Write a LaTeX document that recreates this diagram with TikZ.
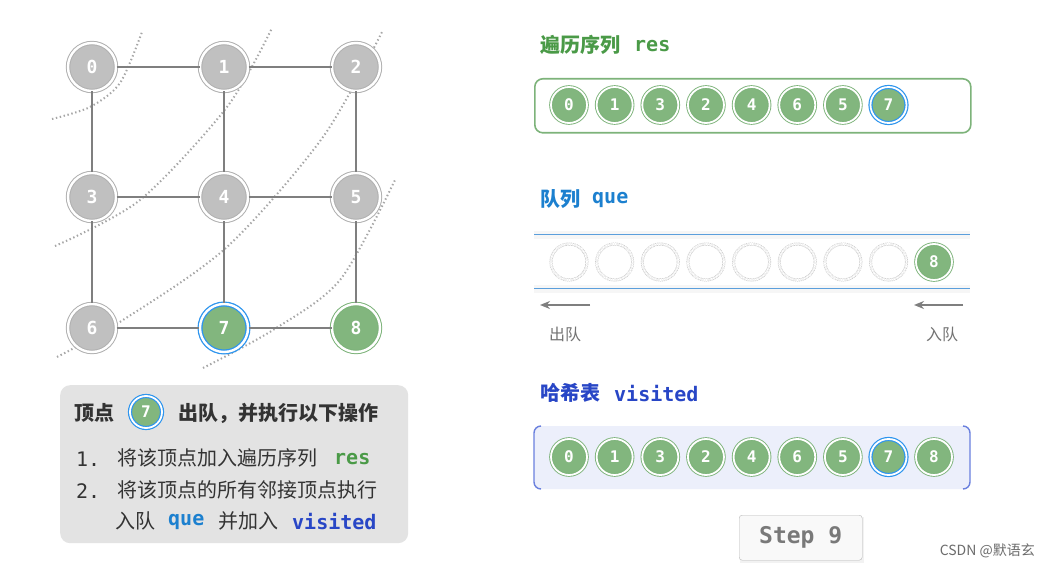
\documentclass[tikz,border=0pt]{standalone}
\usepackage{fontspec}
\setmainfont{Noto Sans CJK SC}
\setmonofont{DejaVu Sans Mono}
\newfontfamily\cjk{Noto Sans CJK SC}
\usetikzlibrary{arrows.meta}
\definecolor{gfill}{HTML}{82B67E}
\definecolor{gline}{HTML}{7DB37A}
\definecolor{nfill}{HTML}{C0C0C0}
\definecolor{nline}{HTML}{B0B0B0}
\definecolor{edgec}{HTML}{7F7F7F}
\definecolor{bluer}{HTML}{2E95EE}
\definecolor{resc}{HTML}{4A9A47}
\definecolor{quec}{HTML}{1C80CF}
\definecolor{visc}{HTML}{2846C6}
\definecolor{txt}{HTML}{333333}
\definecolor{boxc}{HTML}{E3E3E3}
\definecolor{hashf}{HTML}{ECEFFB}
\definecolor{hashl}{HTML}{6A80DE}
\definecolor{qline}{HTML}{5B9FDC}
\tikzset{
  x=1pt,y=-1pt,
  gnode/.style={circle,minimum size=48pt,inner sep=0pt,fill=nfill,draw=nline,double=white,double distance=2.4pt,line width=1pt,text=white,font=\ttfamily\bfseries\fontsize{18}{18}\selectfont},
  gnodeg/.style={gnode,fill=gfill,draw=gline},
  gnodeb/.style={gnode,fill=gfill,draw=bluer,line width=1.3pt},
  snode/.style={circle,minimum size=36pt,inner sep=0pt,fill=gfill,draw=gline,double=white,double distance=1.8pt,line width=0.9pt,text=white,font=\ttfamily\bfseries\fontsize{16}{16}\selectfont},
  snodeb/.style={snode,draw=bluer,line width=1.2pt},
  enode/.style={circle,minimum size=36pt,inner sep=0pt,draw=gray!45,double=white,double distance=1.8pt,line width=0.6pt,dash pattern=on 1pt off 0.8pt},
  gedge/.style={draw=edgec,line width=2.6pt},
  layer/.style={draw=gray!70,line width=2pt,dash pattern=on 1.4pt off 2.6pt},
  cjkb/.style={font=\cjk\bfseries\fontsize{20}{20}\selectfont,inner sep=0pt,anchor=west},
  cjkn/.style={font=\cjk\fontsize{20}{20}\selectfont,inner sep=0pt,anchor=west,text=txt},
  monob/.style={font=\ttfamily\bfseries\fontsize{20}{20}\selectfont,inner sep=0pt,anchor=west},
  monon/.style={font=\ttfamily\fontsize{20}{20}\selectfont,inner sep=0pt,anchor=west,text=txt},
}
\begin{document}
\begin{tikzpicture}
\useasboundingbox[fill=white] (0,0) rectangle (1050,569);
% layer arcs
\draw[layer] plot[smooth] coordinates {(52,119) (90,107) (120,83) (142,32)};
\draw[layer] plot[smooth] coordinates {(55,246) (140,200) (227,107) (272,28)};
\draw[layer] plot[smooth] coordinates {(57,357) (123,320) (227,247) (323,137) (383,30)};
\draw[layer] plot[smooth] coordinates {(203,368) (273,330) (340,280) (395,180)};
% graph
\node[gnode] (n0) at (92,67) {0};
\node[gnode] (n1) at (224,67) {1};
\node[gnode] (n2) at (356,67) {2};
\node[gnode] (n3) at (92,197) {3};
\node[gnode] (n4) at (224,197) {4};
\node[gnode] (n5) at (356,197) {5};
\node[gnode] (n6) at (92,328) {6};
\node[gnodeb] (n7) at (224,328) {7};
\node[gnodeg] (n8) at (356,328) {8};
\draw[gedge] (n0) -- (n1);
\draw[gedge] (n1) -- (n2);
\draw[gedge] (n3) -- (n4);
\draw[gedge] (n4) -- (n5);
\draw[gedge] (n6) -- (n7);
\draw[gedge] (n7) -- (n8);
\draw[gedge] (n0) -- (n3);
\draw[gedge] (n3) -- (n6);
\draw[gedge] (n1) -- (n4);
\draw[gedge] (n4) -- (n7);
\draw[gedge] (n2) -- (n5);
\draw[gedge] (n5) -- (n8);
% left text box
\node[draw=none,fill=boxc,rounded corners=10pt,minimum width=348pt,minimum height=158pt,anchor=north west] (box) at (60,385) {};
\node[cjkb,text=txt] (t1) at (74,413) {顶点};
\node[snodeb,minimum size=32pt] (c7) at (146,412) {7};
\node[cjkb,text=txt] (t2) at (178,413) {出队，并执行以下操作};
\node[monon] (l1n) at (76,459) {1.};
\node[cjkn] (l1) at (117,458) {将该顶点加入遍历序列};
\node[monob,text=resc] (l1r) at (334,459) {res};
\node[monon] (l2n) at (76,491) {2.};
\node[cjkn] (l2) at (117,490) {将该顶点的所有邻接顶点执行};
\node[cjkn] (l3a) at (115,521) {入队};
\node[monob,text=quec] (l3q) at (168,522) {que};
\node[cjkn] (l3b) at (218,521) {并加入};
\node[monob,text=visc] (l3v) at (292,522) {visited};
% res
\node[cjkb,text=resc] (rt) at (540,45) {遍历序列};
\node[monob,text=resc] (rtm) at (634,46) {res};
\node[draw=gline,line width=1.6pt,rounded corners=8pt,minimum width=436pt,minimum height=54pt,anchor=north west,fill=white] (resbox) at (534,78) {};
\foreach \v [count=\i from 0] in {0,1,3,2,4,6,5} {
  \node[snode] (r\i) at (569+45.65*\i,105) {\v};
}
\node[snodeb] (r7) at (888.5,105) {7};
% queue
\node[cjkb,text=quec] (qt) at (540,199) {队列};
\node[monob,text=quec] (qtm) at (592,200) {que};
\fill[gray!7] (534,231) rectangle (970,239);
\fill[gray!7] (534,285) rectangle (970,293);
\draw[qline,line width=1pt] (534,235) coordinate (qa) -- (970,235) coordinate (qb);
\draw[qline,line width=1pt] (534,289) coordinate (qc) -- (970,289) coordinate (qd);
\foreach \i in {0,...,7} {
  \node[enode] (q\i) at (569+45.65*\i,262) {};
}
\node[snode] (q8) at (934,262) {8};
\coordinate (o1) at (590,305);
\coordinate (o2) at (540,305);
\coordinate (i1) at (963,305);
\coordinate (i2) at (914,305);
\draw[draw=edgec,line width=2.4pt,-{Stealth[length=10pt,width=8pt]}] (o1) -- (o2);
\draw[draw=edgec,line width=2.4pt,-{Stealth[length=10pt,width=8pt]}] (i1) -- (i2);
\node[font=\cjk\fontsize{16}{16}\selectfont,text=gray!90!black,inner sep=0pt] (ol) at (565,334) {出队};
\node[font=\cjk\fontsize{16}{16}\selectfont,text=gray!90!black,inner sep=0pt] (il) at (942,334) {入队};
% hash
\node[cjkb,text=visc] (ht) at (540,393) {哈希表};
\node[monob,text=visc] (htm) at (614,394) {visited};
\node[fill=hashf,rounded corners=6pt,minimum width=436pt,minimum height=63pt,anchor=north west] (hbox) at (534,426) {};
\draw[hashl,line width=1.4pt] (541,426) to[out=180,in=90] (534,433) -- (534,482) to[out=-90,in=180] (541,489);
\draw[hashl,line width=1.4pt] (963,426) to[out=0,in=90] (970,433) -- (970,482) to[out=-90,in=0] (963,489);
\foreach \v [count=\i from 0] in {0,1,3,2,4,6,5} {
  \node[snode] (h\i) at (569+45.65*\i,457) {\v};
}
\node[snodeb] (h7) at (888.5,457) {7};
\node[snode] (h8) at (934,457) {8};
% step button
\fill[gray!10] (740,517) rectangle (864,563);
\node[draw=gray!55,fill=gray!5,rounded corners=3pt,minimum width=123pt,minimum height=45pt,anchor=north west,font=\ttfamily\bfseries\fontsize{23}{23}\selectfont,text=gray!95!black] (step) at (739,515) {Step 9};
% watermark
\node[font=\fontsize{14}{14}\selectfont,text=gray!85!black,inner sep=0pt,anchor=east] (wm) at (1035,551) {CSDN @默语玄};
\end{tikzpicture}
\end{document}
